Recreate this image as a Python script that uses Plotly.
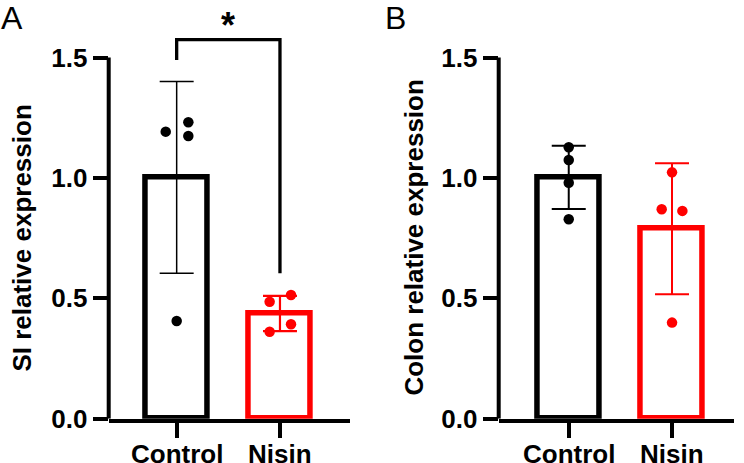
import plotly.graph_objects as go

# ---------------- data ----------------
groups = ["Control", "Nisin"]
group_pos = [0, 1]

si_means = [1.002, 0.437]
si_sd = [0.398, 0.073]
si_control_pts = [1.192, 1.231, 1.174, 0.406]
si_nisin_pts = [0.514, 0.486, 0.392, 0.361]

colon_means = [1.002, 0.789]
colon_sd = [0.131, 0.272]
colon_control_pts = [1.127, 1.074, 0.980, 0.828]
colon_nisin_pts = [1.023, 0.870, 0.863, 0.399]

# horizontal scatter of the dots (jitter, in category units)
si_control_jit = [-0.106, 0.113, 0.113, 0.0]
si_nisin_jit = [0.107, -0.1, 0.107, -0.1]
colon_control_jit = [0.0, 0.0, 0.0, 0.0]
colon_nisin_jit = [0.0, -0.1, 0.1, 0.0]

yticks = [0, 0.5, 1.0, 1.5]
sig_label = "*"

# ---------------- style ----------------
FONT = "Liberation Sans, Arial, Helvetica, sans-serif"
BLACK = "#000000"
RED = "#ff0000"
W, H = 744, 463
colors = [BLACK, RED]

fig = go.Figure()


def add_panel(fig, xa, ya, means, sds, pts_list, jit_list, err_thick):
    for i in range(2):
        fig.add_trace(go.Bar(
            x=[group_pos[i]], y=[means[i]], width=0.6,
            marker=dict(color="white", line=dict(color=colors[i], width=5.5)),
            error_y=dict(type="data", array=[sds[i]], visible=True,
                         color=colors[i], thickness=err_thick[i], width=17),
            xaxis=xa, yaxis=ya, showlegend=False, hoverinfo="skip"))
    for i in range(2):
        fig.add_trace(go.Scatter(
            x=[group_pos[i] + j for j in jit_list[i]], y=pts_list[i],
            mode="markers", marker=dict(color=colors[i], size=10.5),
            xaxis=xa, yaxis=ya, showlegend=False, cliponaxis=False))


add_panel(fig, "x", "y", si_means, si_sd, [si_control_pts, si_nisin_pts],
          [si_control_jit, si_nisin_jit], [1.5, 2.2])
add_panel(fig, "x2", "y2", colon_means, colon_sd, [colon_control_pts, colon_nisin_pts],
          [colon_control_jit, colon_nisin_jit], [2.0, 2.0])

y_bottom = (H - 418.7) / H
y_top = (H - 28.6) / H
yrange = [0, 1.62]
xdomA = [108.7 / W, 350 / W]
xdomB = [498.7 / W, 733.7 / W]

tickfont = dict(family=FONT, size=26, color=BLACK, weight="bold")
xax_common = dict(tickvals=group_pos, ticktext=groups, showticklabels=False,
                  showgrid=False, zeroline=False,
                  showline=True, linecolor=BLACK, linewidth=4, ticks="outside",
                  ticklen=15, tickwidth=4, tickcolor=BLACK, tickfont=tickfont,
                  automargin=False, fixedrange=True)
yax_common = dict(range=yrange, tickvals=yticks, tickformat=".1f", showgrid=False,
                  zeroline=False, showline=False, ticks="outside", ticklen=15,
                  tickwidth=4, tickcolor=BLACK, tickfont=tickfont, automargin=False,
                  domain=[y_bottom, y_top])

fig.update_layout(
    width=W, height=H,
    margin=dict(l=0, r=0, t=0, b=0),
    paper_bgcolor="white", plot_bgcolor="white",
    bargap=0,
    xaxis=dict(domain=xdomA, range=[-0.658, 1.678], anchor="y", **xax_common),
    yaxis=dict(anchor="x", **yax_common),
    xaxis2=dict(domain=xdomB, range=[-0.678, 1.597], anchor="y2", **xax_common),
    yaxis2=dict(anchor="x2", **yax_common),
    font=dict(family=FONT, color=BLACK),
)

# category labels (placed a little closer to the axis than Plotly's default standoff)
for xref in ["x", "x2"]:
    for pos, name in zip(group_pos, groups):
        fig.add_annotation(x=pos, y=(H - 437) / H, xref=xref, yref="paper", text=name,
                           showarrow=False, xanchor="center", yanchor="top",
                           font=tickfont)

# y axis lines (only up to 1.5)
for xd, yref in [(xdomA, "y"), (xdomB, "y2")]:
    fig.add_shape(type="line", xref="paper", yref=yref, x0=xd[0], x1=xd[0],
                  y0=0, y1=1.5, line=dict(color=BLACK, width=4), layer="above")

# significance bracket
fig.add_shape(type="path", xref="x", yref="y",
              path="M 0 1.49 L 0 1.574 L 1 1.574 L 1 0.604",
              line=dict(color=BLACK, width=3.3))
fig.add_annotation(x=0.5, y=(H - 25.5) / H, xref="x", yref="paper", text=sig_label,
                   showarrow=False, yanchor="middle", xanchor="center",
                   font=dict(family=FONT, size=36, color=BLACK, weight="bold"))

# y titles
for xp, txt, yref in [(22.5 / W, "SI relative expression", "y"),
                      (414.5 / W, "Colon relative expression", "y2")]:
    fig.add_annotation(x=xp, y=0.75, xref="paper", yref=yref, text=txt, textangle=-90,
                       showarrow=False, xanchor="center", yanchor="middle",
                       font=dict(family=FONT, size=26, color=BLACK, weight="bold"))

# panel letters
for xp, letter in [(-1 / W, "A"), (383 / W, "B")]:
    fig.add_annotation(x=xp, y=1.0 + 2 / H, xref="paper", yref="paper", text=letter,
                       showarrow=False, xanchor="left", yanchor="top",
                       font=dict(family=FONT, size=32, color=BLACK))

fig.write_html("out.html")
